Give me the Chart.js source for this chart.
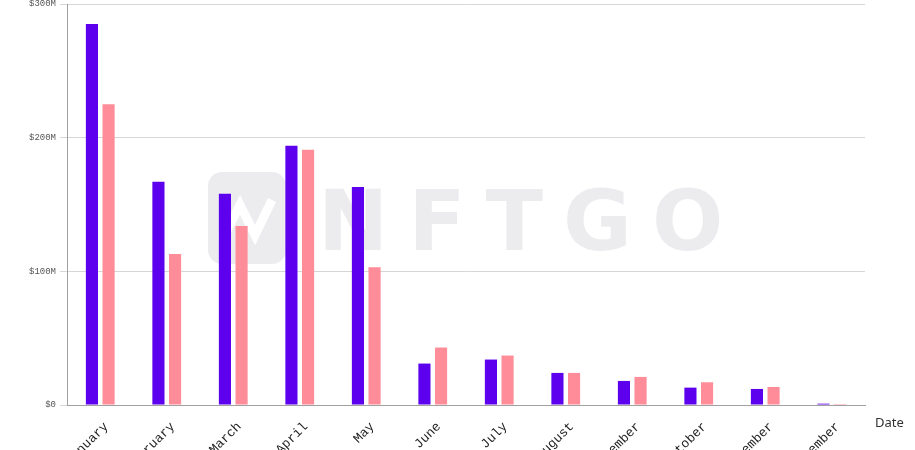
<!DOCTYPE html>
<html>
<head>
<meta charset="utf-8">
<script src="https://cdn.jsdelivr.net/npm/chart.js@4/dist/chart.umd.min.js"></script>
<style>
  html, body { margin: 0; padding: 0; background: #fff; overflow: hidden; }
  #wrap { width: 915px; height: 450px; position: relative; }
</style>
</head>
<body>
<div id="wrap"><canvas id="chart" width="915" height="450"></canvas></div>
<script>
// months on the x axis
const months = ['January', 'February', 'March', 'April', 'May', 'June', 'July', 'August', 'September', 'October', 'November', 'December'];
// values in millions of dollars
const purpleSeries = [285, 167, 158, 194, 163, 31, 34, 24, 18, 13, 12, 1];
const pinkSeries = [225, 113, 134, 191, 103, 43, 37, 24, 21, 17, 13.5, 0.7];
const yTicks = [0, 100, 200, 300];

// light NFTGO watermark behind the bars
const watermark = {
    id: 'watermark',
    beforeDatasetsDraw(chart) {
        const ctx = chart.ctx;
        ctx.save();
        ctx.fillStyle = '#ececef';
        ctx.beginPath();
        ctx.roundRect(208, 172, 78, 92, 14);
        ctx.fill();
        ctx.strokeStyle = '#ffffff';
        ctx.lineWidth = 9;
        ctx.beginPath();
        ctx.moveTo(222, 240);
        ctx.lineTo(240, 205);
        ctx.lineTo(255, 235);
        ctx.lineTo(272, 200);
        ctx.stroke();
        ctx.fillStyle = '#ececef';
        ctx.font = 'bold 84px "DejaVu Sans"';
        ctx.textBaseline = 'alphabetic';
        ctx.letterSpacing = '20px';
        ctx.fillText('NFTGO', 318, 250);
        ctx.restore();
    }
};

// "Date" axis title to the right of the x axis
const dateTitle = {
    id: 'dateTitle',
    afterDraw(chart) {
        const ctx = chart.ctx;
        ctx.save();
        ctx.fillStyle = '#333';
        ctx.font = '13px "Noto Sans"';
        ctx.textBaseline = 'middle';
        ctx.fillText('Date', chart.chartArea.right + 10, chart.chartArea.bottom + 18);
        ctx.restore();
    }
};

new Chart(document.getElementById('chart'), {
    type: 'bar',
    data: {
        labels: months,
        datasets: [{
            label: 'Series A',
            data: purpleSeries,
            backgroundColor: '#5d00ee',
            barPercentage: 0.73,
            categoryPercentage: 0.5
        }, {
            label: 'Series B',
            data: pinkSeries,
            backgroundColor: '#ff8c99',
            barPercentage: 0.73,
            categoryPercentage: 0.5
        }]
    },
    plugins: [watermark, dateTitle],
    options: {
        responsive: false,
        animation: false,
        layout: { padding: { top: 4, right: 50, left: 0, bottom: 0 } },
        plugins: {
            legend: { display: false },
            tooltip: { enabled: false }
        },
        scales: {
            x: {
                grid: { display: false },
                border: { display: true, color: '#a0a0a0' },
                ticks: {
                    minRotation: 45,
                    maxRotation: 45,
                    labelOffset: 6,
                    padding: 6,
                    color: '#222',
                    font: { family: '"Liberation Mono"', size: 13 }
                },
                afterFit(scale) { scale.height = 45; }
            },
            y: {
                min: 0,
                max: 300,
                afterBuildTicks(scale) { scale.ticks = yTicks.map(v => ({ value: v })); },
                grid: { color: '#d6d6d6', tickLength: 7 },
                border: { display: true, color: '#a0a0a0' },
                ticks: {
                    color: '#555',
                    padding: 4,
                    font: { family: '"Liberation Mono"', size: 9 },
                    callback: v => '$' + v + (v === 0 ? '' : 'M')
                },
                afterFit(scale) {
                    scale.width = 67;
                    scale.paddingTop = 0;
                    scale.paddingBottom = 0;
                }
            }
        }
    }
});
</script>
</body>
</html>
